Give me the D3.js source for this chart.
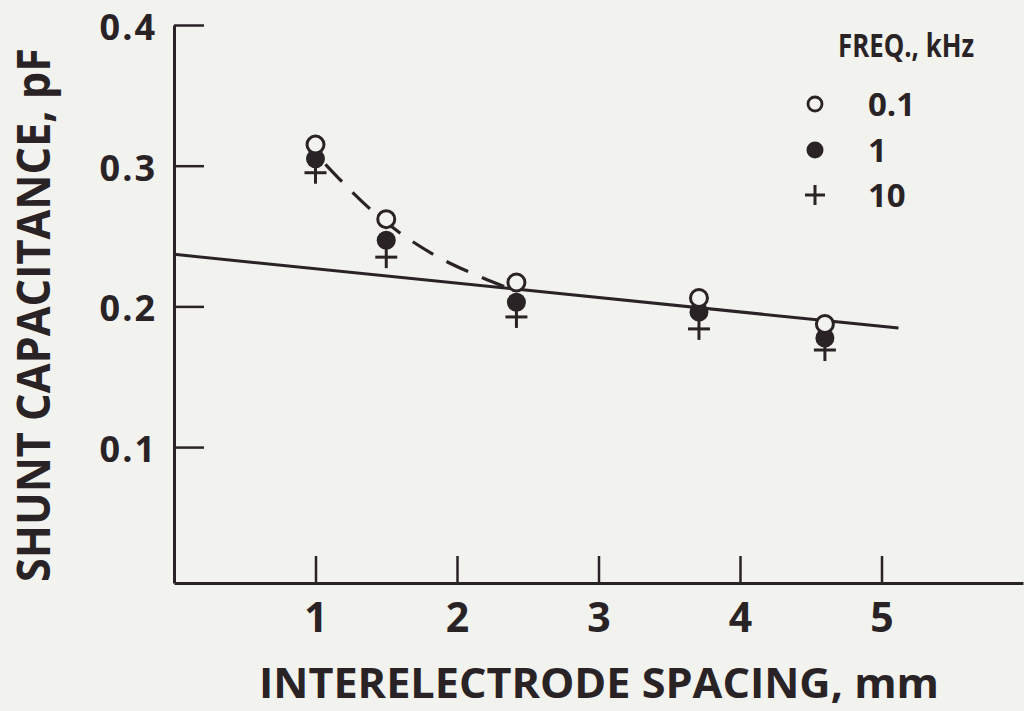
<!DOCTYPE html>
<html>
<head>
<meta charset="utf-8">
<script src="https://cdn.jsdelivr.net/npm/d3@7"></script>
<style>
  html, body { margin: 0; padding: 0; background: #f2f2ee; }
  svg { display: block; }
  text { font-family: "Open Sans", sans-serif; font-weight: 700; fill: #2a2326; }
</style>
</head>
<body>
<script>
// interelectrode spacing, mm
const spacing = [1.0, 1.5, 2.42, 3.71, 4.6];
// shunt capacitance, pF, for each frequency
const cap01k = [0.315, 0.262, 0.217, 0.206, 0.1875];
const cap1k = [0.305, 0.247, 0.203, 0.196, 0.1775];
const cap10k = [0.295, 0.235, 0.1925, 0.184, 0.169];

// straight fitted line and dashed curve
const fitX = [0, 5.12];
const fitY = [0.237, 0.1846];
const dashX = [1.07, 1.4, 1.6, 1.85, 2.15, 2.36];
const dashY = [0.301, 0.268, 0.252, 0.236, 0.2216, 0.213];

const xTicks = [1, 2, 3, 4, 5];
const yTicks = [0.1, 0.2, 0.3, 0.4];
const legendLabels = ["0.1", "1", "10"];

const width = 1024, height = 711;
const ink = "#2a2326";

const svg = d3.select("body").append("svg")
  .attr("width", width)
  .attr("height", height);

const x = d3.scaleLinear().domain([0, 6]).range([174, 1023]);
const y = d3.scaleLinear().domain([0.0034, 0.4]).range([583, 25]);

// x axis
const xAxis = svg.append("g")
  .attr("transform", "translate(0," + y.range()[0] + ")")
  .call(d3.axisBottom(x).tickValues(xTicks).tickSize(-27).tickSizeOuter(0).tickPadding(20).tickFormat(d3.format("d")));

// y axis
const yAxis = svg.append("g")
  .attr("transform", "translate(" + x.range()[0] + ",0)")
  .call(d3.axisLeft(y).tickValues(yTicks).tickSize(-30).tickSizeOuter(0).tickPadding(17).tickFormat(d3.format(".1f")));

[xAxis, yAxis].forEach(g => {
  g.select(".domain").attr("stroke", ink).attr("stroke-width", 3).attr("stroke-linejoin", "round");
  g.selectAll(".tick line").attr("stroke", ink).attr("stroke-width", 2.5);
  g.selectAll(".tick text")
    .attr("fill", ink)
    .style("font-size", "36px")
    .style("font-family", "'Open Sans', sans-serif")
    .style("font-weight", 700);
});
xAxis.selectAll(".tick text").style("font-size", "41px");
yAxis.selectAll(".tick text").attr("letter-spacing", 2).attr("dy", "0.4em");

// axis titles
svg.append("text")
  .attr("x", 259).attr("y", 698)
  .attr("textLength", 680).attr("lengthAdjust", "spacingAndGlyphs")
  .style("font-size", "41px")
  .text("INTERELECTRODE SPACING, mm");

svg.append("text")
  .attr("transform", "translate(50,582) rotate(-90)")
  .attr("textLength", 534).attr("lengthAdjust", "spacingAndGlyphs")
  .style("font-size", "46px")
  .text("SHUNT CAPACITANCE, pF");

// fitted line
const line = d3.line().x(d => x(d[0])).y(d => y(d[1]));
svg.append("path")
  .datum(d3.zip(fitX, fitY))
  .attr("d", line)
  .attr("fill", "none")
  .attr("stroke", ink)
  .attr("stroke-width", 3);

svg.append("path")
  .datum(d3.zip(dashX, dashY))
  .attr("d", line.curve(d3.curveMonotoneX))
  .attr("fill", "none")
  .attr("stroke", ink)
  .attr("stroke-width", 3.2)
  .attr("stroke-dasharray", "24 15");

// markers
function plus(g, cx, cy, half) {
  g.append("line").attr("x1", cx - half).attr("x2", cx + half).attr("y1", cy).attr("y2", cy);
  g.append("line").attr("x1", cx).attr("x2", cx).attr("y1", cy - half).attr("y2", cy + half);
}

const marks = svg.append("g").attr("stroke", ink).attr("stroke-width", 3);
spacing.forEach((s, i) => plus(marks, x(s), y(cap10k[i]), 11));

svg.append("g").selectAll("circle")
  .data(d3.zip(spacing, cap1k))
  .join("circle")
  .attr("cx", d => x(d[0])).attr("cy", d => y(d[1]))
  .attr("r", 9.5)
  .attr("fill", ink);

svg.append("g").selectAll("circle")
  .data(d3.zip(spacing, cap01k))
  .join("circle")
  .attr("cx", d => x(d[0])).attr("cy", d => y(d[1]))
  .attr("r", 8.5)
  .attr("fill", "#f2f2ee")
  .attr("stroke", ink)
  .attr("stroke-width", 3);

// legend
const legend = svg.append("g");
legend.append("text")
  .attr("x", 838).attr("y", 57)
  .attr("textLength", 136).attr("lengthAdjust", "spacingAndGlyphs")
  .style("font-size", "33px")
  .text("FREQ., kHz");

const rowY = [104, 150, 195];
legend.selectAll("text.lab")
  .data(legendLabels)
  .join("text")
  .attr("class", "lab")
  .attr("x", 868)
  .attr("y", (d, i) => rowY[i])
  .attr("dy", "0.36em")
  .style("font-size", "33px")
  .text(d => d);

legend.append("circle").attr("cx", 815).attr("cy", rowY[0]).attr("r", 7)
  .attr("fill", "none").attr("stroke", ink).attr("stroke-width", 2.8);
legend.append("circle").attr("cx", 815).attr("cy", rowY[1]).attr("r", 8.5).attr("fill", ink);
const lp = legend.append("g").attr("stroke", ink).attr("stroke-width", 3);
plus(lp, 815, rowY[2], 10);
</script>
</body>
</html>
